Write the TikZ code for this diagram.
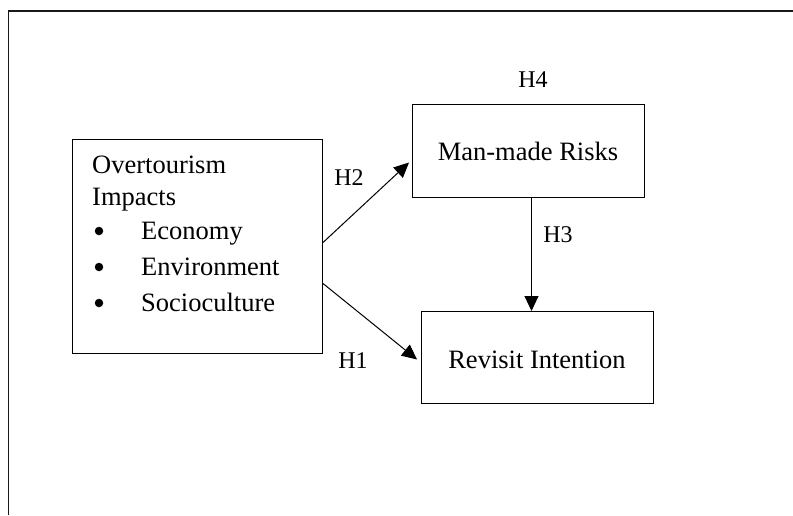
\documentclass[tikz,border=0pt]{standalone}
\usepackage{fontspec}
\setmainfont{Liberation Serif}
\usetikzlibrary{arrows.meta}
\begin{document}
\begin{tikzpicture}[x=1pt,y=-1pt,
  box/.style={draw=black,line width=1pt,inner sep=0pt,anchor=north west},
  big/.style={font=\fontsize{26.5}{30}\selectfont,inner sep=0pt},
  lab/.style={font=\fontsize{24}{28}\selectfont,inner sep=0pt,anchor=base},
  dot/.style={circle,fill=black,inner sep=0pt,minimum size=8.5pt},
  arr/.style={line width=1pt,-{Triangle[length=15pt,width=14pt]}},
  frame/.style={line width=1.5pt,color=black!90}]
\useasboundingbox (0,0) rectangle (793,515);
% outer frame
\coordinate (f1) at (8.5,515);
\coordinate (f2) at (8.5,11);
\coordinate (f3) at (793,11);
\draw[frame] (f1) -- (f2) -- (f3);
% boxes
\node[box,minimum width=250pt,minimum height=214pt] (L) at (72,139) {};
\node[box,minimum width=232pt,minimum height=93pt] (M) at (412,104) {};
\node[box,minimum width=232pt,minimum height=92pt] (R) at (421,311) {};
% left box text
\node[big,anchor=base west] (t1) at (92,173) {Overtourism};
\node[big,anchor=base west] (t2) at (92,205) {Impacts};
\node[dot] (b1) at (99,231) {};
\node[big,anchor=base west] (t3) at (141,239) {Economy};
\node[dot] (b2) at (99,267) {};
\node[big,anchor=base west] (t4) at (141,275) {Environment};
\node[dot] (b3) at (99,303) {};
\node[big,anchor=base west] (t5) at (141,311) {Socioculture};
% box texts
\node[big,anchor=base] (mt) at (528,160) {Man-made Risks};
\node[big,anchor=base] (rt) at (537,368) {Revisit Intention};
% labels
\node[lab] (h4) at (533,87) {H4};
\node[lab] (h2) at (349,185) {H2};
\node[lab] (h3) at (558,242) {H3};
\node[lab] (h1) at (353,368) {H1};
% arrows
\draw[arr] ([yshift=4pt]L.east) -- ([xshift=-3pt,yshift=-11.5pt]M.west);
\draw[arr] ([yshift=-37pt]L.east) -- ([xshift=-4pt,yshift=-2pt]R.west);
\draw[arr] ([xshift=3pt]M.south) -- ([xshift=-6pt]R.north);
\end{tikzpicture}
\end{document}
